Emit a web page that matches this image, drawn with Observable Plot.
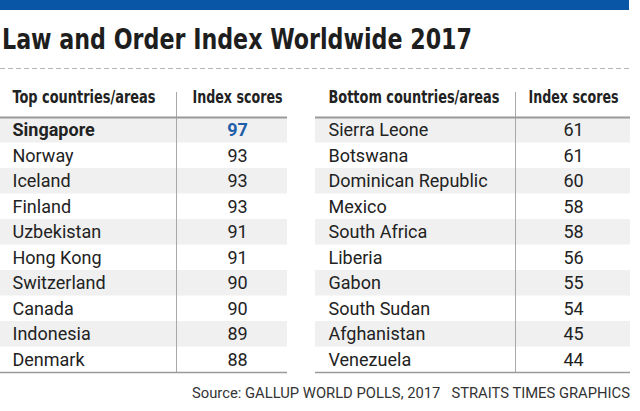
<!DOCTYPE html>
<html><head><meta charset="utf-8">
<script src="https://cdn.jsdelivr.net/npm/d3@7"></script>
<script src="https://cdn.jsdelivr.net/npm/@observablehq/plot@0.6"></script>
<style>
html,body{margin:0;padding:0;background:#fff;}
body{width:640px;height:411px;overflow:hidden;position:relative;font-family:Roboto,sans-serif;}
#bar{position:absolute;left:0;top:0;width:629px;height:10px;background:#0a56a6;}
#title{position:absolute;left:2px;top:21px;font-family:"DejaVu Sans Condensed","DejaVu Sans",sans-serif;font-weight:bold;font-size:29px;line-height:36px;color:#1e1e1e;white-space:nowrap;transform-origin:0 0;}
#dash{position:absolute;left:0;top:67px;}
#chart{position:absolute;left:0;top:84px;}
#cap{position:absolute;left:192px;top:383px;font-family:Roboto,sans-serif;font-size:15px;line-height:20px;color:#333;white-space:nowrap;transform-origin:0 0;}
</style></head>
<body>
<div id="bar"></div>
<div id="title">Law and Order Index Worldwide 2017</div>
<svg id="dash" width="640" height="4"><line x1="0" x2="632" y1="1.5" y2="1.5" stroke="#b5b5b5" stroke-width="1" stroke-dasharray="5,3"/></svg>
<div id="chart"></div>
<div id="cap">Source: GALLUP WORLD POLLS, 2017&nbsp;&nbsp;&nbsp;STRAITS TIMES GRAPHICS</div>
<script>
// ---- data ----
const headers = ["Top countries/areas", "Index scores", "Bottom countries/areas", "Index scores"];
const topCountries = ["Singapore","Norway","Iceland","Finland","Uzbekistan","Hong Kong","Switzerland","Canada","Indonesia","Denmark"];
const topScores = [97,93,93,93,91,91,90,90,89,88];
const bottomCountries = ["Sierra Leone","Botswana","Dominican Republic","Mexico","South Africa","Liberia","Gabon","South Sudan","Afghanistan","Venezuela"];
const bottomScores = [61,61,60,58,58,56,55,54,45,44];

const topRows = topCountries.map((name, i) => ({rank: i + 1, name, score: topScores[i]}));
const bottomRows = bottomCountries.map((name, i) => ({rank: i + 1, name, score: bottomScores[i]}));
const striped = d => d.rank % 2 === 1;

// layout constants
const L = {x0: 0, x1: 287, name: 12, div: 176, score: 237};
const R = {x0: 315, x1: 630, name: 328, div: 515, score: 573};
const fs = 18, txt = "#222";
const hfont = "DejaVu Sans Condensed, DejaVu Sans, sans-serif";

const plot = Plot.plot({
  width: 640, height: 292,
  margin: 0,
  x: {type: "linear", domain: [0, 640], range: [0, 640], axis: null},
  y: {type: "linear", domain: [0, 10], range: [33, 288], axis: null},
  marks: [
    // zebra stripes
    Plot.rect(topRows.filter(striped), {x1: L.x0, x2: L.x1, y1: d => d.rank - 1, y2: d => d.rank, fill: "#f0f0f0"}),
    Plot.rect(bottomRows.filter(striped), {x1: R.x0, x2: R.x1, y1: d => d.rank - 1, y2: d => d.rank, fill: "#f0f0f0"}),
    // vertical dividers
    Plot.ruleX([L.div, R.div], {y1: -0.98, y2: 10, stroke: "#a8a8a8", strokeWidth: 1}),
    // header and bottom lines
    Plot.ruleY([0], {x1: L.x0, x2: L.x1, stroke: "#9a9a9a", strokeWidth: 2}),
    Plot.ruleY([0], {x1: R.x0, x2: R.x1, stroke: "#9a9a9a", strokeWidth: 2}),
    Plot.ruleY([10], {x1: L.x0, x2: L.x1, stroke: "#9a9a9a", strokeWidth: 1.5}),
    Plot.ruleY([10], {x1: R.x0, x2: R.x1, stroke: "#9a9a9a", strokeWidth: 1.5}),
    // headers
    Plot.text([headers[0]], {x: L.name, frameAnchor: "top", dy: 13, lineAnchor: "middle", textAnchor: "start", fontFamily: hfont, fontWeight: "bold", fontSize: 17, fill: txt}),
    Plot.text([headers[1]], {x: L.score, frameAnchor: "top", dy: 13, lineAnchor: "middle", textAnchor: "middle", fontFamily: hfont, fontWeight: "bold", fontSize: 17, fill: txt}),
    Plot.text([headers[2]], {x: R.name, frameAnchor: "top", dy: 13, lineAnchor: "middle", textAnchor: "start", fontFamily: hfont, fontWeight: "bold", fontSize: 17, fill: txt}),
    Plot.text([headers[3]], {x: R.score, frameAnchor: "top", dy: 13, lineAnchor: "middle", textAnchor: "middle", fontFamily: hfont, fontWeight: "bold", fontSize: 17, fill: txt}),
    // top table
    Plot.text(topRows.filter(d => d.rank === 1), {x: L.name, y: d => d.rank - 0.5, text: "name", textAnchor: "start", lineAnchor: "middle", fontFamily: "Roboto", fontWeight: "bold", fontSize: fs, fill: txt}),
    Plot.text(topRows.filter(d => d.rank !== 1), {x: L.name, y: d => d.rank - 0.5, text: "name", textAnchor: "start", lineAnchor: "middle", fontFamily: "Roboto", fontSize: fs, fill: txt}),
    Plot.text(topRows.filter(d => d.rank === 1), {x: L.score, y: d => d.rank - 0.5, text: d => String(d.score), textAnchor: "middle", lineAnchor: "middle", fontFamily: "Roboto", fontWeight: "bold", fontSize: fs, fill: "#1f5ea8"}),
    Plot.text(topRows.filter(d => d.rank !== 1), {x: L.score, y: d => d.rank - 0.5, text: d => String(d.score), textAnchor: "middle", lineAnchor: "middle", fontFamily: "Roboto", fontSize: fs, fill: txt}),
    // bottom table
    Plot.text(bottomRows, {x: R.name, y: d => d.rank - 0.5, text: "name", textAnchor: "start", lineAnchor: "middle", fontFamily: "Roboto", fontSize: fs, fill: txt}),
    Plot.text(bottomRows, {x: R.score, y: d => d.rank - 0.5, text: d => String(d.score), textAnchor: "middle", lineAnchor: "middle", fontFamily: "Roboto", fontSize: fs, fill: txt})
  ]
});
document.getElementById("chart").appendChild(plot);

// fit header widths to the reference
const headerWidths = [143, 90, 171, 90];
d3.select(plot).selectAll("text").each(function() {
  const idx = headers.indexOf(this.textContent);
  if (idx >= 0) {
    d3.select(this).attr("textLength", headerWidths[idx]).attr("lengthAdjust", "spacingAndGlyphs");
  }
});
function fit(id, target) {
  const el = document.getElementById(id);
  const w = el.getBoundingClientRect().width;
  if (w > 0) el.style.transform = `scaleX(${target / w})`;
}
fit("title", 470);
fit("cap", 438);
</script>
</body></html>
